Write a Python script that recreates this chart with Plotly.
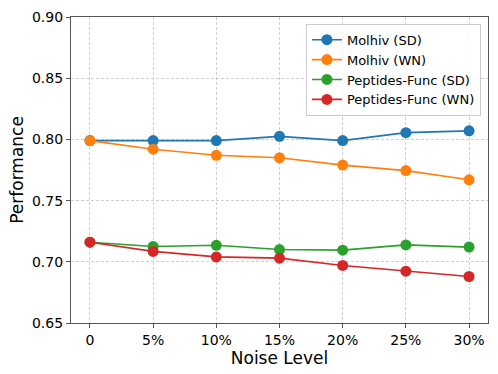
import plotly.graph_objects as go

noise_levels = ["0", "5%", "10%", "15%", "20%", "25%", "30%"]
molhiv_sd = [0.799, 0.799, 0.799, 0.8025, 0.799, 0.8055, 0.807]
molhiv_wn = [0.799, 0.792, 0.787, 0.785, 0.779, 0.7745, 0.767]
peptides_sd = [0.716, 0.7125, 0.7135, 0.710, 0.7095, 0.7138, 0.712]
peptides_wn = [0.716, 0.7085, 0.704, 0.703, 0.697, 0.6923, 0.688]

series = [
    ("Molhiv (SD)", molhiv_sd, "#1f77b4"),
    ("Molhiv (WN)", molhiv_wn, "#ff7f0e"),
    ("Peptides-Func (SD)", peptides_sd, "#2ca02c"),
    ("Peptides-Func (WN)", peptides_wn, "#d62728"),
]

fig = go.Figure()
for name, vals, color in series:
    fig.add_trace(go.Scatter(
        x=list(range(len(noise_levels))), y=vals, name=name,
        mode="lines+markers",
        line=dict(color=color, width=1.6),
        marker=dict(color=color, size=11),
    ))

axis_common = dict(
    showline=True, linecolor="#555555", linewidth=1.2, mirror=True,
    showgrid=True, gridcolor="#d0d0d0", griddash="3px,2px", gridwidth=0.8,
    ticks="outside", ticklen=4, tickcolor="#555555",
    tickfont=dict(size=14, color="black"), zeroline=False,
)

fig.update_xaxes(
    tickvals=list(range(len(noise_levels))), ticktext=noise_levels,
    range=[-0.3, 6.3],
    title=dict(text="Noise Level", font=dict(size=17, color="black"), standoff=0),
    **axis_common,
)
fig.update_yaxes(
    range=[0.65, 0.90], dtick=0.05, tickformat=".2f",
    title=dict(text="Performance", font=dict(size=17, color="black"), standoff=3),
    **axis_common,
)

fig.update_layout(
    width=498, height=374,
    margin=dict(l=71, r=9, t=15, b=51),
    plot_bgcolor="white", paper_bgcolor="white",
    font=dict(family="DejaVu Sans", color="black"),
    legend=dict(
        x=0.983, y=0.978, xanchor="right", yanchor="top",
        bgcolor="rgba(255,255,255,0.8)", bordercolor="#cccccc", borderwidth=1,
        font=dict(size=13), tracegroupgap=0, itemwidth=30,
    ),
)

fig.write_html("out.html", config={"displayModeBar": False},
               post_script="document.body.style.margin='0';")
